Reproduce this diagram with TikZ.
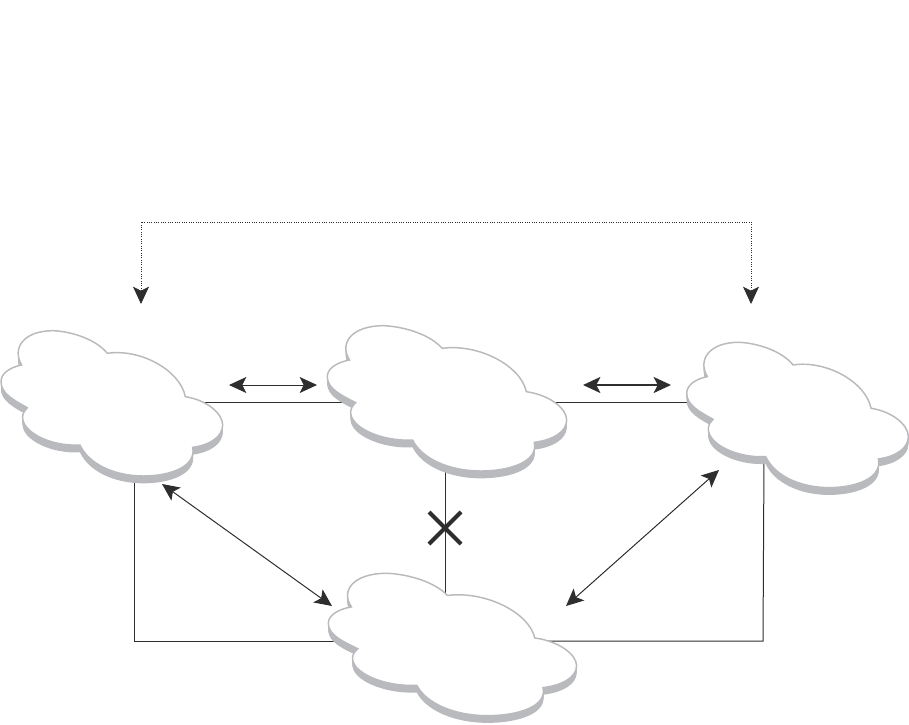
\documentclass[tikz,border=0pt]{standalone}
\usetikzlibrary{arrows.meta}
\definecolor{cloudgrey}{HTML}{B9BABD}
\definecolor{linkblack}{HTML}{2E2E2E}
\newcommand{\cloudoutline}{(65,165) .. controls (35,115) and (70,62) .. (160,62)
  .. controls (220,65) and (290,90) .. (322,130)
  .. controls (420,115) and (540,180) .. (556,260)
  .. controls (620,270) and (668,310) .. (668,345)
  .. controls (668,380) and (630,405) .. (578,412)
  .. controls (590,470) and (510,498) .. (430,498)
  .. controls (340,498) and (265,460) .. (240,405)
  .. controls (150,410) and (65,365) .. (68,320)
  .. controls (68,310) and (75,300) .. (82,293)
  .. controls (40,270) and (3,250) .. (3,215)
  .. controls (3,190) and (30,172) .. (65,165) -- cycle}
\tikzset{
  link/.style={draw=linkblack, line width=.75pt},
  twoway/.style={link, {Stealth[length=13pt,width=12pt,inset=3pt]}-{Stealth[length=13pt,width=12pt,inset=3pt]}},
  cloudpic/.pic={
    \begin{scope}[scale=1/3]
      \foreach \d in {22,20,...,2}
        \fill[cloudgrey, shift={(0,\d)}] \cloudoutline;
      \draw[cloudgrey, fill=white, line width=1.1pt] \cloudoutline;
    \end{scope}
  }
}
\begin{document}
\begin{tikzpicture}[x=.75pt, y=-.75pt]
  \useasboundingbox (0,0) rectangle (909,724);
  \coordinate (WestRight) at (190,402); \coordinate (MidLeft) at (345,402);
  \coordinate (MidRight) at (545,402); \coordinate (EastLeft) at (700,402);
  \coordinate (WestFoot) at (134,470); \coordinate (WestCorner) at (134,641);
  \coordinate (SouthLeft) at (345,641); \coordinate (EastFoot) at (764,455);
  \coordinate (EastCorner) at (763,641); \coordinate (SouthRight) at (540,641);
  \coordinate (MidFoot) at (445,465); \coordinate (SouthTop) at (445,600);
  \coordinate (Cross) at (445,528);
  \draw[link] (WestRight)--(MidLeft); \draw[link] (MidRight)--(EastLeft);
  \draw[link] (WestFoot)--(WestCorner)--(SouthLeft);
  \draw[link] (EastFoot)--(EastCorner)--(SouthRight);
  \draw[link] (MidFoot)--(SouthTop);
  \draw[linkblack, line width=3pt] ([shift={(-16,-16)}]Cross)--([shift={(16,16)}]Cross);
  \draw[linkblack, line width=3pt] ([shift={(16,-16)}]Cross)--([shift={(-16,16)}]Cross);
  % arrows beside the links
  \coordinate (TopLeft) at (141,222); \coordinate (TopRight) at (751,222);
  \coordinate (DropLeft) at (141,304); \coordinate (DropRight) at (751,304);
  \draw[twoway, densely dotted, line width=.6pt] (DropLeft)--(TopLeft)--(TopRight)--(DropRight);
  \coordinate (AL) at (229,385); \coordinate (AR) at (317,385);
  \coordinate (BL) at (583,385); \coordinate (BR) at (671,385);
  \draw[twoway] (AL)--(AR);
  \draw[twoway, line width=1.3pt] (BL)--(BR);
  \coordinate (CL) at (162,484); \coordinate (CR) at (332,606);
  \coordinate (DL) at (566,606); \coordinate (DR) at (719,470);
  \draw[twoway] (CL)--(CR);
  \draw[twoway] (DL)--(DR);
  \pic at (0,310) {cloudpic};
  \pic[xscale=1.08] at (326.2,305) {cloudpic};
  \pic at (685.7,321.6) {cloudpic};
  \pic[xscale=1.12, yscale=.98] at (327.2,553) {cloudpic};
\end{tikzpicture}
\end{document}
